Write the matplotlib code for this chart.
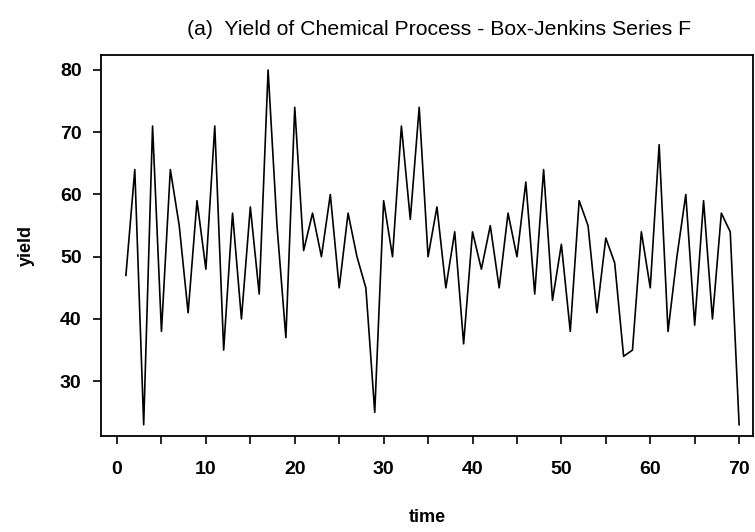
import numpy as np
import matplotlib
matplotlib.use('Agg')
import matplotlib.pyplot as plt

# Box-Jenkins Series F: yield of a batch chemical process
yields = [47, 64, 23, 71, 38, 64, 55, 41, 59, 48,
          71, 35, 57, 40, 58, 44, 80, 55, 37, 74,
          51, 57, 50, 60, 45, 57, 50, 45, 25, 59,
          50, 71, 56, 74, 50, 58, 45, 54, 36, 54,
          48, 55, 45, 57, 50, 62, 44, 64, 43, 52,
          38, 59, 55, 41, 53, 49, 34, 35, 54, 45,
          68, 38, 50, 60, 39, 59, 40, 57, 54, 23]
time = np.arange(1, len(yields) + 1)

xticks_major = [0, 10, 20, 30, 40, 50, 60, 70]
yticks = [30, 40, 50, 60, 70, 80]

plt.rcParams['font.family'] = ['Liberation Sans', 'DejaVu Sans']

fig = plt.figure(figsize=(7.55, 5.32), dpi=100)
ax = fig.add_axes([0.1338, 0.1805, 0.864, 0.716])

ax.plot(time, yields, color='black', lw=1.2)

ax.set_xlim(-1.8, 71.6)
ax.set_ylim(21.2, 82.4)
ax.set_xticks(xticks_major)
ax.set_xticks(np.arange(5, 70, 10), minor=True)
ax.set_yticks(yticks)
ax.tick_params(axis='x', which='major', direction='out', length=6, width=1.2,
               labelsize=14, pad=12)
ax.tick_params(axis='y', which='major', direction='out', length=6, width=1.2,
               labelsize=14, pad=8)
ax.tick_params(axis='x', which='minor', direction='out', length=6, width=1.2)
for lab in ax.get_xticklabels() + ax.get_yticklabels():
    lab.set_fontweight('bold')
for s in ax.spines.values():
    s.set_linewidth(1.3)

ax.set_xlabel('time', fontsize=13, fontweight='bold', labelpad=22)
ax.set_ylabel('yield', fontsize=13, fontweight='bold', labelpad=18)
fig.text(0.582, 0.945, '(a)  Yield of Chemical Process - Box-Jenkins Series F',
         ha='center', va='center', fontsize=15.3)

fig.savefig('out.png', dpi=100)
